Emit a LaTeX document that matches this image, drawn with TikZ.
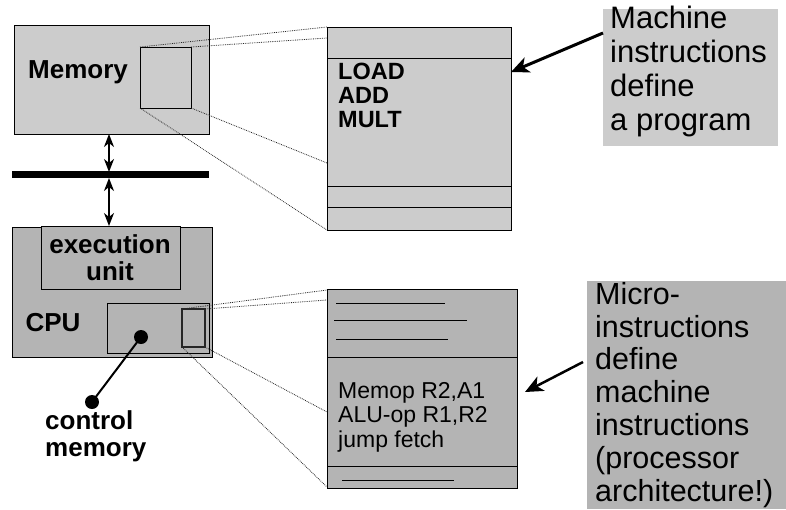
\documentclass[tikz,border=0pt]{standalone}
\usepackage{fontspec}
\setmainfont{Liberation Sans}
\usetikzlibrary{arrows.meta}
\definecolor{lightg}{RGB}{204,204,204}
\definecolor{midg}{RGB}{180,180,180}
\tikzset{
  box/.style={draw=black, line width=0.9pt, anchor=north west, inner sep=0pt, outer sep=0pt},
  zoomline/.style={densely dotted, line width=0.8pt, draw=black!85},
  divline/.style={line width=0.9pt},
  bigtxt/.style={font=\fontsize{31}{34}\selectfont, align=left, anchor=north west, inner sep=0pt},
  boldtxt/.style={font=\bfseries\fontsize{26}{27}\selectfont, align=center, inner sep=0pt},
  codetxt/.style={font=\fontsize{23.5}{24.5}\selectfont, align=left, anchor=north west, inner sep=0pt},
  busarrow/.style={line width=1.6pt, {Stealth[length=13pt,width=10pt,inset=4pt]}-{Stealth[length=13pt,width=10pt,inset=4pt]}},
  callarrow/.style={line width=3pt, -{Stealth[length=18pt,width=16pt,inset=5pt]}},
  dot/.style={circle, fill=black, minimum size=14pt, inner sep=0pt}
}
\begin{document}
\begin{tikzpicture}[x=1pt,y=-1pt]
\useasboundingbox (0,0) rectangle (786,509);
% Memory
\node[box, fill=lightg, minimum width=195pt, minimum height=109pt] (mem) at (14,25) {};
\node[boldtxt, anchor=center] (memt) at (78,72) {Memory};
\node[box, fill=lightg, minimum width=51pt, minimum height=61pt] (memw) at (140,47) {};
% machine program panel
\node[box, fill=lightg, minimum width=184pt, minimum height=203pt] (prog) at (327,27) {};
\coordinate (p1) at (327,58); \coordinate (p1e) at (511,58);
\coordinate (p2) at (327,186); \coordinate (p2e) at (511,186);
\coordinate (p3) at (327,207); \coordinate (p3e) at (511,207);
\draw[divline] (p1) -- (p1e) (p2) -- (p2e) (p3) -- (p3e);
\node[codetxt, font=\bfseries\fontsize{23.5}{24}\selectfont] (progt) at (338,63) {LOAD\\ADD\\MULT};
% zoom lines memory
\coordinate (mz1) at (327,27); \coordinate (mz2) at (327,38);
\coordinate (mz3) at (327,163); \coordinate (mz4) at (327,230);
\draw[zoomline] (memw.north west) -- (mz1);
\draw[zoomline] (memw.north east) -- (mz2);
\draw[zoomline] (memw.south east) -- (mz3);
\draw[zoomline] (memw.south west) -- (mz4);
% Machine instructions label
\node[box, draw=none, fill=lightg, minimum width=175pt, minimum height=137pt] (mlab) at (603,9) {};
\node[bigtxt] (mlabt) at (610,6) {Machine\\instructions\\define\\a program};
\coordinate (ma) at (603,33); \coordinate (mb) at (511,72);
\draw[callarrow] (ma) -- (mb);
% bus
\node[fill=black, minimum width=197pt, minimum height=7pt, inner sep=0pt, anchor=north west] (bus) at (12,171) {};
\coordinate (b1) at (109,134); \coordinate (b2) at (109,172);
\coordinate (b3) at (109,178); \coordinate (b4) at (109,226);
\draw[busarrow] (b1) -- (b2);
\draw[busarrow] (b3) -- (b4);
% CPU
\node[box, fill=midg, minimum width=200pt, minimum height=130pt] (cpu) at (12,227) {};
\node[box, fill=midg, minimum width=139pt, minimum height=63pt] (exu) at (41,226) {};
\node[boldtxt, anchor=center] (exut) at (110,258) {execution\\unit};
\node[boldtxt, anchor=center] (cput) at (53,323) {CPU};
\node[box, fill=midg, minimum width=102pt, minimum height=50pt] (cm) at (107,303) {};
\node[box, fill=midg, line width=1.6pt, draw=black!85, minimum width=23pt, minimum height=38pt] (cmw) at (182,309) {};
\node[dot] (d1) at (141,337) {};
\node[dot] (d2) at (92,402) {};
\draw[line width=2pt] (d1.center) -- (d2.center);
\node[boldtxt, align=left, anchor=north west] (cmt) at (45,410) {control\\memory};
% micro panel
\node[box, fill=midg, minimum width=190pt, minimum height=199pt] (micro) at (327,289) {};
\coordinate (q1) at (327,357); \coordinate (q1e) at (517,357);
\coordinate (q2) at (327,466); \coordinate (q2e) at (517,466);
\draw[divline] (q1) -- (q1e) (q2) -- (q2e);
\coordinate (l1a) at (336,303); \coordinate (l1b) at (445,303);
\coordinate (l2a) at (334,320); \coordinate (l2b) at (467,320);
\coordinate (l3a) at (336,339); \coordinate (l3b) at (448,339);
\coordinate (l4a) at (342,480); \coordinate (l4b) at (454,480);
\draw[divline] (l1a) -- (l1b) (l2a) -- (l2b) (l3a) -- (l3b) (l4a) -- (l4b);
\node[codetxt, font=\fontsize{23}{24.5}\selectfont] (microt) at (338,382) {Memop R2,A1\\ALU-op R1,R2\\jump fetch};
% zoom lines cpu
\coordinate (cz1) at (327,290); \coordinate (cz2) at (327,300);
\coordinate (cz3) at (327,412); \coordinate (cz4) at (327,487);
\draw[zoomline] (cmw.north west) -- (cz1);
\draw[zoomline] (cmw.north east) -- (cz2);
\draw[zoomline] (cmw.south east) -- (cz3);
\draw[zoomline] (cmw.south west) -- (cz4);
% Micro label
\node[box, draw=none, fill=midg, minimum width=199pt, minimum height=228pt] (ulab) at (587,281) {};
\node[bigtxt, font=\fontsize{30.5}{32.8}\selectfont] (ulabt) at (595,282) {Micro-\\instructions\\define\\machine\\instructions\\(processor\\architecture!)};
\coordinate (ua) at (583,362); \coordinate (ub) at (525,392);
\draw[callarrow, line width=2.5pt] (ua) -- (ub);
\end{tikzpicture}
\end{document}
